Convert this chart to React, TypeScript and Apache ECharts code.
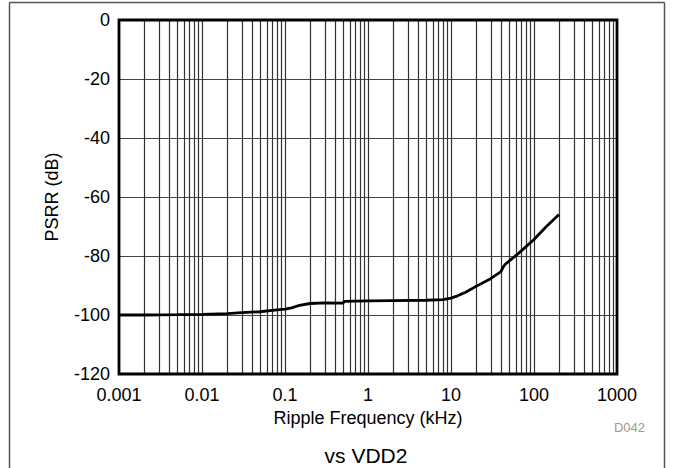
import React, { useEffect, useRef } from "react";
import * as echarts from "echarts";

const freqKHz = [0.001, 0.002, 0.005, 0.01, 0.02, 0.03, 0.05, 0.07, 0.1, 0.12, 0.15, 0.2, 0.3, 0.5, 0.52, 0.7, 1, 2, 5, 8, 10, 12, 15, 20, 30, 40, 42, 45, 65, 100, 140, 200];
const psrrDb = [-100, -100, -99.9, -99.8, -99.5, -99.2, -98.9, -98.4, -98, -97.6, -96.7, -96.1, -95.9, -96, -95.4, -95.3, -95.2, -95.1, -95, -94.8, -94.3, -93.5, -92.3, -90.3, -87.7, -85.3, -84, -82.8, -79.1, -74.4, -70.1, -65.9];
const xTickLabels = ["0.001", "0.01", "0.1", "1", "10", "100", "1000"];
const decades = [0.001, 0.01, 0.1, 1, 10, 100];
const minorMultipliers = [2, 3, 4, 5, 6, 7, 8, 9];

export default function App() {
  const ref = useRef<HTMLDivElement>(null);
  useEffect(() => {
    const chart = echarts.init(ref.current!, null, { renderer: "svg" });
    const gridFreqs: number[] = [];
    decades.forEach((d, i) => {
      if (i > 0) gridFreqs.push(d);
      minorMultipliers.forEach((m) => gridFreqs.push(+(d * m).toPrecision(3)));
    });
    const font = "Liberation Sans, Arial, sans-serif";
    chart.setOption({
      animation: false,
      grid: { left: 119, top: 20, width: 498, height: 354 },
      xAxis: {
        type: "log",
        logBase: 10,
        min: 0.001,
        max: 1000,
        name: "Ripple Frequency (kHz)",
        nameLocation: "middle",
        nameGap: 32,
        nameTextStyle: { fontFamily: font, fontSize: 18, color: "#000" },
        axisLine: { show: false },
        axisTick: { show: false },
        splitLine: { show: false },
        axisLabel: {
          fontFamily: font,
          fontSize: 18,
          color: "#000",
          margin: 12,
          formatter: (v: number) => {
            const i = Math.round(Math.log10(v)) + 3;
            return xTickLabels[i] ?? "";
          },
        },
      },
      yAxis: {
        type: "value",
        min: -120,
        max: 0,
        interval: 20,
        name: "PSRR (dB)",
        nameLocation: "middle",
        nameGap: 58,
        nameTextStyle: { fontFamily: font, fontSize: 18, color: "#000" },
        axisLine: { show: false },
        axisTick: { show: false },
        splitLine: { show: true, lineStyle: { color: "#444", width: 1 } },
        axisLabel: { fontFamily: font, fontSize: 18, color: "#000", margin: 9 },
      },
      series: [
        {
          type: "custom",
          silent: true,
          data: gridFreqs.map((f) => [f]),
          encode: { x: 0 },
          renderItem: (_p: any, api: any) => {
            const f = api.value(0);
            const a = api.coord([f, 0]);
            const b = api.coord([f, -120]);
            return {
              type: "line",
              shape: { x1: Math.round(a[0]) + 0.5, y1: a[1], x2: Math.round(a[0]) + 0.5, y2: b[1] },
              style: { stroke: "#333", lineWidth: 1.2 },
            };
          },
          z: 1,
        },
        {
          type: "line",
          data: freqKHz.map((f, i) => [f, psrrDb[i]]),
          showSymbol: false,
          lineStyle: { color: "#000", width: 2.8 },
          z: 5,
        },
      ],
      graphic: [
        {
          type: "rect",
          shape: { x: 119, y: 20, width: 498, height: 354 },
          style: { fill: "none", stroke: "#000", lineWidth: 2.8 },
          z: 10,
        },
        { type: "line", shape: { x1: 9.5, y1: 2.5, x2: 9.5, y2: 468 }, style: { stroke: "#555", lineWidth: 1.5 } },
        { type: "line", shape: { x1: 9.5, y1: 2.5, x2: 664.5, y2: 2.5 }, style: { stroke: "#555", lineWidth: 1.5 } },
        { type: "line", shape: { x1: 664.5, y1: 2.5, x2: 664.5, y2: 468 }, style: { stroke: "#555", lineWidth: 1.5 } },
        {
          type: "text",
          x: 645,
          y: 427,
          style: { text: "D042", fontFamily: font, fontSize: 13, fill: "#999", align: "right", verticalAlign: "middle" },
        },
        {
          type: "text",
          x: 366,
          y: 455,
          style: { text: "vs VDD2", fontFamily: font, fontSize: 21, fill: "#000", align: "center", verticalAlign: "middle" },
        },
      ],
    });
    return () => chart.dispose();
  }, []);
  return <div ref={ref} style={{ position: "fixed", left: 0, top: 0, width: 676, height: 468, background: "#fff" }} />;
}
